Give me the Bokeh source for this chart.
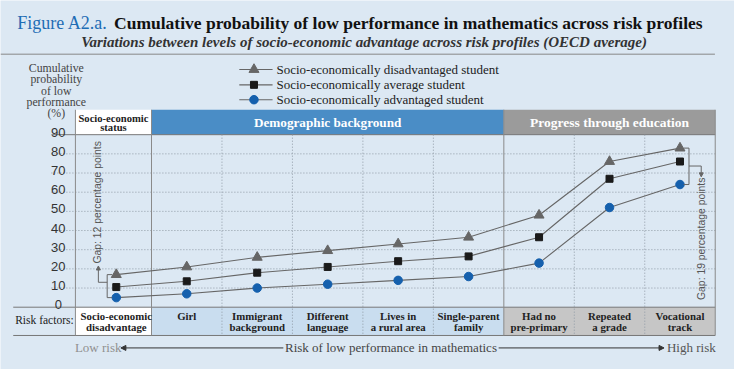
from bokeh.plotting import figure
from bokeh.models import Range1d, Arrow, NormalHead
from bokeh.embed import file_html
from bokeh.resources import INLINE
from bokeh.core.properties import value

# ---------------- data ----------------
categories = ["Socio-economic\ndisadvantage", "Girl", "Immigrant\nbackground", "Different\nlanguage",
              "Lives in\na rural area", "Single-parent\nfamily", "Had no\npre-primary",
              "Repeated\na grade", "Vocational\ntrack"]
disadvantaged = [17, 21, 26, 29.5, 33, 36.5, 48, 76, 83]
average = [10.5, 13.5, 18, 21, 24, 26.5, 36.5, 67, 76]
advantaged = [5, 7, 10, 12, 14, 16, 23, 52, 64]
series_names = ["Socio-economically disadvantaged student",
                "Socio-economically average student",
                "Socio-economically advantaged student"]
y_ticks = [0, 10, 20, 30, 40, 50, 60, 70, 80, 90]
groups = ["Socio-economic\nstatus", "Demographic background", "Progress through education"]
group_edges = [-0.58, 0.5, 5.5, 8.5]
gap_left = "Gap: 12 percentage points"
gap_right = "Gap: 19 percentage points"

# ---------------- style ----------------
BG = "#dce8f3"
SERIF = "Liberation Serif"
SANS = "Liberation Sans"
LINE_C = "#666666"
TRI_C = "#666666"
SQ_C = "#1a1a1a"
CIR_C = "#1560ad"
HEAD_FILL = ["#ffffff", "#4a8dc6", "#9b9b9b"]
ROW_FILL = ["#ffffff", "#c9ddef", "#c6c6c6"]

# layout helpers: reference-image pixel -> data coordinates
def px2x(px):
    return (px - 118.3) / 72.0

def py2y(py):
    return (320.0 - py) / 2.0

p = figure(width=734, height=369, output_backend="svg", toolbar_location=None,
           x_range=Range1d(px2x(0), px2x(750)), y_range=Range1d(py2y(385), py2y(0)),
           x_axis_type=None, y_axis_type=None,
           min_border=0, min_border_left=0, min_border_right=0, min_border_top=0, min_border_bottom=0)
p.outline_line_color = None
p.background_fill_color = BG
p.border_fill_color = BG


def txt(x, y, s, size, color="#222222", font=SERIF, style="normal", align="left",
        baseline="middle", angle=0.0):
    p.text(x=[x], y=[y], text=[s], text_font=value(font), text_font_size=value(size),
           text_font_style=value(style), text_color=color, text_align=align,
           text_baseline=baseline, angle=angle)

# ---------------- header & bottom row boxes ----------------
n = len(categories)
x_right = group_edges[-1]
head_top, head_bot = py2y(114), 90
row_top, row_bot = 0, py2y(349.5)
p.quad(left=group_edges[:-1], right=group_edges[1:], top=head_top, bottom=head_bot,
       fill_color=HEAD_FILL, line_color=None)
p.quad(left=group_edges[:-1], right=group_edges[1:], top=row_top, bottom=row_bot,
       fill_color=ROW_FILL, line_color=None)

# gridlines
grid_vals = [v for v in y_ticks if 0 < v < 90]
p.segment(x0=[px2x(52)] * len(grid_vals), x1=[x_right] * len(grid_vals), y0=grid_vals, y1=grid_vals,
          line_color="#8f9aa5", line_width=1, line_dash="1 2")
p.segment(x0=[px2x(52)], x1=[x_right], y0=[90], y1=[90], line_color="#777777", line_width=1)
p.segment(x0=[px2x(13)] * 2, x1=[x_right] * 2, y0=[row_top, row_bot], y1=[row_top, row_bot],
          line_color="#777777", line_width=1)
# vertical separators
inner = [k + 0.5 for k in range(n - 1) if (k + 0.5) not in group_edges]
p.segment(x0=inner, x1=inner, y0=[90] * len(inner), y1=[row_bot] * len(inner),
          line_color="#8f9aa5", line_width=1, line_dash="1 2")
p.segment(x0=group_edges, x1=group_edges, y0=[head_top] * 4, y1=[row_bot] * 4,
          line_color="#8a8a8a", line_width=1)

# ---------------- series ----------------
xs = list(range(n))
for vals in (disadvantaged, average, advantaged):
    p.line(xs, vals, line_color=LINE_C, line_width=1.1)
p.scatter(xs, disadvantaged, marker="triangle", size=10, fill_color=TRI_C, line_color=TRI_C)
p.scatter(xs, average, marker="square", size=7, fill_color=SQ_C, line_color=SQ_C)
p.scatter(xs, advantaged, marker="circle", size=8.5, fill_color=CIR_C, line_color=CIR_C)

# ---------------- legend ----------------
leg_y = [py2y(72), py2y(88), py2y(103.5)]
p.segment(x0=[px2x(244)] * 3, x1=[px2x(278)] * 3, y0=leg_y, y1=leg_y, line_color=LINE_C, line_width=1.1)
p.scatter([px2x(259)], [leg_y[0]], marker="triangle", size=10, fill_color=TRI_C, line_color=TRI_C)
p.scatter([px2x(259)], [leg_y[1]], marker="square", size=7, fill_color=SQ_C, line_color=SQ_C)
p.scatter([px2x(259)], [leg_y[2]], marker="circle", size=8.5, fill_color=CIR_C, line_color=CIR_C)
for name, yy in zip(series_names, leg_y):
    txt(px2x(282), yy, name, "13px", "#222222")

# ---------------- titles ----------------
txt(px2x(17), py2y(23.5), "Figure A2.a.", "18px", "#1f6db5")
txt(px2x(116), py2y(23.5), "Cumulative probability of low performance in mathematics across risk profiles",
    "17.5px", "#111111", style="bold")
txt(px2x(371.5), py2y(43.5),
    "Variations between levels of socio-economic advantage across risk profiles (OECD average)",
    "15px", "#333333", style="bold italic", align="center")
p.segment(x0=[px2x(0)], x1=[px2x(730)], y0=[py2y(56)], y1=[py2y(56)], line_color="#888888", line_width=1)

# y-axis title
for i, line in enumerate(["Cumulative", "probability", "of low", "performance", "(%)"]):
    txt(px2x(57), py2y(70.7 + 11.7 * i), line, "11.8px", "#444444", align="center")

# y tick labels
for v in y_ticks:
    txt(px2x(59), v + 1.25, str(v), "13px", "#333333", font=SANS, align="center", baseline="alphabetic")

# header texts
g0 = groups[0].split("\n")
gx0 = (group_edges[0] + group_edges[1]) / 2
txt(gx0, py2y(123.3), g0[0], "10.6px", "#222222", style="bold", align="center")
txt(gx0, py2y(133), g0[1], "10.6px", "#222222", style="bold", align="center")
txt((group_edges[1] + group_edges[2]) / 2, py2y(127.5), groups[1], "13.2px", "#ffffff",
    style="bold", align="center")
txt((group_edges[2] + group_edges[3]) / 2, py2y(127.5), groups[2], "13.5px", "#ffffff",
    style="bold", align="center")

# bottom row labels
txt(px2x(15), py2y(333.5), "Risk factors:", "11.5px", "#222222")
for k, lab in enumerate(categories):
    parts = lab.split("\n")
    for j, part in enumerate(parts):
        txt(k, py2y(329.3 + 11.4 * j), part, "10.8px", "#222222", style="bold", align="center")

# risk arrow
txt(px2x(76), py2y(362.5), "Low risk", "13px", "#909090")
txt(px2x(399), py2y(362.5), "Risk of low performance in mathematics", "13px", "#444444", align="center")
txt(px2x(681), py2y(362.5), "High risk", "13px", "#555555")
p.add_layout(Arrow(end=NormalHead(size=5, fill_color="#333333", line_color="#333333"),
                   x_start=px2x(289), y_start=py2y(362.5), x_end=px2x(123), y_end=py2y(362.5),
                   line_color="#333333", line_width=1))
p.add_layout(Arrow(end=NormalHead(size=5, fill_color="#333333", line_color="#333333"),
                   x_start=px2x(509), y_start=py2y(362.5), x_end=px2x(678), y_end=py2y(362.5),
                   line_color="#333333", line_width=1))

# ---------------- gap annotations ----------------
GC = "#666666"
# left bracket (first category)
bx = px2x(109)
p.segment(x0=[bx, bx, bx], x1=[bx, px2x(114), px2x(114)],
          y0=[disadvantaged[0], disadvantaged[0], advantaged[0]],
          y1=[advantaged[0], disadvantaged[0], advantaged[0]], line_color=GC, line_width=1)
mid_l = py2y(294)
p.segment(x0=[bx], x1=[px2x(100)], y0=[mid_l], y1=[mid_l], line_color=GC, line_width=1)
p.add_layout(Arrow(end=NormalHead(size=4, fill_color=GC, line_color=GC),
                   x_start=px2x(100), y_start=mid_l, x_end=px2x(100), y_end=py2y(277),
                   line_color=GC, line_width=1))
txt(px2x(99.5), py2y(274.5), gap_left, "10.4px", "#555555", font=SANS, angle=1.5708)

# right bracket (last category)
rx = px2x(703.5)
last = n - 1
p.segment(x0=[rx, rx, rx], x1=[rx, px2x(698), px2x(698)],
          y0=[disadvantaged[last], disadvantaged[last], advantaged[last]],
          y1=[advantaged[last], disadvantaged[last], advantaged[last]], line_color=GC, line_width=1)
mid_r = py2y(172.7)
p.segment(x0=[rx], x1=[px2x(716)], y0=[mid_r], y1=[mid_r], line_color=GC, line_width=1)
p.add_layout(Arrow(end=NormalHead(size=4, fill_color=GC, line_color=GC),
                   x_start=px2x(716), y_start=mid_r, x_end=px2x(716), y_end=py2y(184),
                   line_color=GC, line_width=1))
txt(px2x(716), py2y(312.5), gap_right, "10.4px", "#555555", font=SANS, angle=1.5708)

open("out.html", "w").write(file_html(p, INLINE))
